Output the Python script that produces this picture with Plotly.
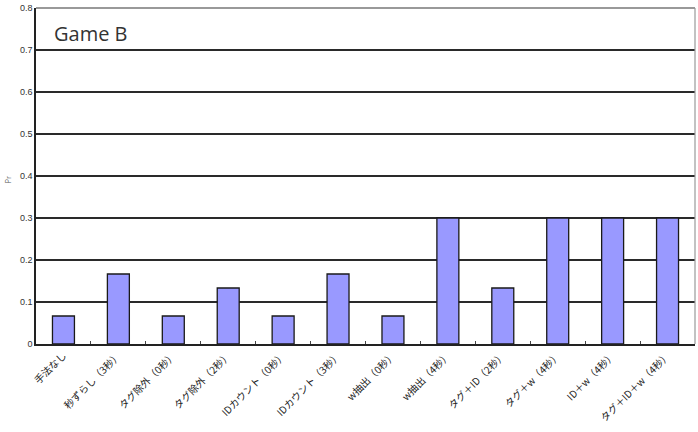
import plotly.graph_objects as go

categories = ["手法なし", "秒ずらし（3秒）", "タグ除外（0秒）", "タグ除外（2秒）",
              "IDカウント（0秒）", "IDカウント（3秒）", "w抽出（0秒）", "w抽出（4秒）",
              "タグ＋ID（2秒）", "タグ＋w（4秒）", "ID＋w（4秒）", "タグ＋ID＋w（4秒）"]
values = [0.0667, 0.1667, 0.0667, 0.1333, 0.0667, 0.1667, 0.0667, 0.3, 0.1333, 0.3, 0.3, 0.3]
yticks = [0, 0.1, 0.2, 0.3, 0.4, 0.5, 0.6, 0.7, 0.8]

fig = go.Figure()
fig.add_trace(go.Bar(x=categories, y=values, marker=dict(color="#9999FF", line=dict(color="#1a1a1a", width=1.3))))

fig.update_layout(
    width=698, height=432,
    margin=dict(l=36, r=3, t=6, b=88),
    plot_bgcolor="white", paper_bgcolor="white",
    bargap=0.6, showlegend=False,
    font=dict(family="Noto Sans CJK JP, sans-serif", color="#333"),
    xaxis=dict(showline=True, linecolor="#222", linewidth=1.6, tickangle=-45,
               ticks="inside", tickson="boundaries", ticklen=3, tickcolor="#444",
               tickfont=dict(size=10, color="#222"), mirror=False),
    yaxis=dict(range=[0, 0.8], tickvals=yticks, ticktext=[("%g" % v) for v in yticks],
               showgrid=True, gridcolor="#2a2a2a", gridwidth=1.6,
               showline=True, linecolor="#222", linewidth=1.6,
               tickfont=dict(size=9, color="#333", family="Liberation Sans, sans-serif"),
               zeroline=False),
    shapes=[dict(type="line", xref="paper", yref="paper", x0=0, x1=1, y0=1, y1=1,
                 line=dict(color="#777", width=1.4)),
            dict(type="line", xref="paper", yref="paper", x0=1, x1=1, y0=0, y1=1,
                 line=dict(color="#999", width=1.2))],
    annotations=[dict(text="Game B", x=0.024, y=0.925, xref="paper", yref="paper",
                      xanchor="left", yanchor="middle", showarrow=False,
                      font=dict(size=20, color="#333", family="Open Sans, sans-serif"))],
)
fig.add_annotation(text="Pr", xref="paper", yref="y", x=-0.042, y=0.39, textangle=-90,
                   showarrow=False, font=dict(size=7, color="#555"), xanchor="center")
fig.write_html("out.html")
